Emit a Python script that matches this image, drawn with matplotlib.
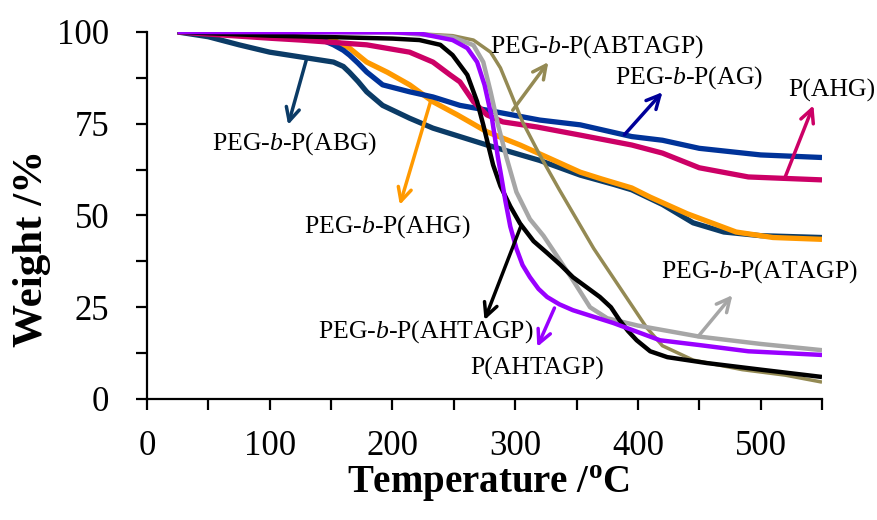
import matplotlib
matplotlib.use("Agg")
import matplotlib.pyplot as plt
import matplotlib.ticker as ticker

plt.rcParams.update({
    "font.family": "Liberation Serif",
    "mathtext.fontset": "custom",
    "mathtext.rm": "Liberation Serif",
    "mathtext.it": "Liberation Serif:italic",
    "mathtext.bf": "Liberation Serif:bold",
})

# --- data (temperature in C, weight in %) ---
abg_t = [25, 50, 75, 100, 125, 152, 160, 165, 172, 179, 192, 214, 233, 277, 320, 353, 380, 395, 420, 445, 470, 500, 550]
abg_w = [100, 98.7, 96.5, 94.5, 93.2, 91.8, 90.6, 89, 86.5, 83.7, 80, 76.5, 73.8, 69.2, 65, 61, 58.5, 57, 53, 48, 45.5, 44.5, 44]

ag_t = [25, 75, 125, 145, 152, 160, 165, 172, 179, 192, 214, 233, 255, 277, 320, 353, 395, 420, 450, 500, 550]
ag_w = [100, 99.3, 98.4, 97.5, 96.5, 95, 93.7, 91.5, 89.1, 85.6, 83.7, 82.3, 80, 78.7, 76, 74.7, 71.5, 70.5, 68.3, 66.5, 65.8]

ahg_t = [25, 60, 100, 125, 179, 214, 233, 247, 255, 266, 277, 290, 318, 353, 395, 420, 450, 490, 550]
ahg_w = [100, 99.2, 98.3, 97.8, 96.5, 94.5, 91.8, 88.3, 86.4, 81, 77.4, 75.5, 74.1, 71.9, 69.2, 67, 63, 60.5, 59.7]

peg_ahg_t = [25, 100, 125, 152, 165, 179, 196, 214, 233, 253, 277, 304, 353, 370, 395, 410, 440, 480, 510, 550]
peg_ahg_w = [100, 99.6, 98.6, 97.8, 95.6, 91.8, 89, 85.6, 81, 77.4, 72.8, 69.2, 61.8, 60, 57.5, 55, 50.5, 45.5, 44, 43.5]

abtagp_t = [25, 200, 249, 266, 280, 288, 296, 306, 320, 336, 350, 364, 378, 394, 407, 420, 445, 485, 520, 550]
abtagp_w = [100, 99.9, 99, 97.8, 94.5, 90.2, 83.7, 75.5, 66.5, 57, 49, 41, 34, 26, 19.5, 14.5, 10.6, 8, 6.5, 4.6]

atagp_t = [25, 200, 249, 266, 274, 280, 286, 293, 301, 312, 323, 335, 347, 361, 375, 400, 425, 450, 500, 550]
atagp_w = [100, 99.9, 98.6, 96.4, 91.8, 83.7, 74.7, 65.7, 56.4, 49, 44.5, 38.5, 32.4, 25, 22, 20, 18.5, 17, 15, 13.3]

peg_ahtagp_t = [25, 100, 150, 200, 222, 239, 249, 261, 269, 274, 278, 282, 288, 296, 304, 315, 326, 337, 347,
                358, 369, 378, 385, 392, 399, 410, 424, 456, 500, 550]
peg_ahtagp_w = [100, 99, 98.6, 98.2, 97.8, 96.5, 93.7, 88.3, 81, 74.7, 69.2, 63.8, 58, 52.5, 47.8, 43, 39.8, 36.5, 33.2,
                30.5, 27.8, 25, 21.5, 18.5, 16, 13, 11.4, 9.8, 8, 6]

ahtagp_t = [25, 200, 222, 249, 261, 269, 275, 281, 286, 289, 292, 296, 301, 306, 312, 319, 326, 336, 347,
            380, 418, 450, 490, 550]
ahtagp_w = [100, 99.9, 99.6, 97.8, 95.6, 91.8, 85.6, 76.6, 65.7, 60, 54, 47, 41, 36.5, 33.2, 30, 27.8, 25.8, 24.2,
            20.7, 16, 14.7, 13, 12]

NAVY = "#0B3B66"
BLUE = "#003399"
DARK_BLUE = "#000099"
PINK = "#CC0066"
ORANGE = "#FF9900"
OLIVE = "#948A54"
GRAY = "#A6A6A6"
BLACK = "#000000"
PURPLE = "#9900FF"

fig = plt.figure(figsize=(8.77, 5.2), dpi=100)
ax = fig.add_axes([0.1676, 0.2327, 0.7697, 0.7058])

ax.plot(abg_t, abg_w, color=NAVY, lw=3.8, solid_joinstyle="round", solid_capstyle="butt")
ax.plot(peg_ahg_t, peg_ahg_w, color=ORANGE, lw=3.8, solid_joinstyle="round", solid_capstyle="butt")
ax.plot(ag_t, ag_w, color=BLUE, lw=3.8, solid_joinstyle="round", solid_capstyle="butt")
ax.plot(ahg_t, ahg_w, color=PINK, lw=3.8, solid_joinstyle="round", solid_capstyle="butt")
ax.plot(abtagp_t, abtagp_w, color=OLIVE, lw=2.5, solid_joinstyle="round", solid_capstyle="butt")
ax.plot(atagp_t, atagp_w, color=GRAY, lw=3.2, solid_joinstyle="round", solid_capstyle="butt")
ax.plot(peg_ahtagp_t, peg_ahtagp_w, color=BLACK, lw=3.2, solid_joinstyle="round", solid_capstyle="butt")
ax.plot(ahtagp_t, ahtagp_w, color=PURPLE, lw=3.2, solid_joinstyle="round", solid_capstyle="butt")

# --- arrows (tail on curve -> head) and labels ---
notes = [
    # label, text pos, tail, head, arrow colour
    (r"PEG-$\mathit{b}$-P(ABG)", (120, 69.6), (130, 92.6), (115, 74.7), NAVY),
    (r"PEG-$\mathit{b}$-P(AHG)", (196, 47.1), (231, 81.0), (206, 52.9), ORANGE),
    (r"PEG-$\mathit{b}$-P(ABTAGP)", (367, 96.0), (298, 78.7), (327, 91.8), OLIVE),
    (r"PEG-$\mathit{b}$-P(AG)", (442, 87.7), (389, 72.0), (420, 83.6), DARK_BLUE),
    ("P(AHG)", (558, 84.0), (520, 60.5), (543, 80.0), PINK),
    (r"PEG-$\mathit{b}$-P(AHTAGP)", (227, 18.3), (305, 47.4), (275, 21.5), BLACK),
    ("P(AHTAGP)", (318, 8.4), (332, 24.8), (318, 14.2), PURPLE),
    (r"PEG-$\mathit{b}$-P(ATAGP)", (499, 34.6), (449, 17.0), (477, 28.3), GRAY),
]
for label, pos, tail, head, col in notes:
    ax.annotate("", xy=head, xytext=tail,
                arrowprops=dict(arrowstyle="->", color=col, lw=2.5,
                                mutation_scale=24, shrinkA=0, shrinkB=0),
                annotation_clip=False)
    ax.text(pos[0], pos[1], label, fontsize=18.5, ha="center", va="center",
            clip_on=False)

ax.set_xlim(0, 550)
ax.set_ylim(0, 100)
ax.xaxis.set_major_locator(ticker.MultipleLocator(100))
ax.xaxis.set_minor_locator(ticker.MultipleLocator(50))
ax.yaxis.set_major_locator(ticker.MultipleLocator(25))
ax.yaxis.set_minor_locator(ticker.MultipleLocator(12.5))
ax.tick_params(which="both", direction="out", length=8, width=1.6)
ax.tick_params(axis="both", labelsize=25)
ax.tick_params(axis="x", pad=14)
ax.tick_params(axis="y", pad=19)

for side in ("top", "right"):
    ax.spines[side].set_visible(False)
for side in ("left", "bottom"):
    ax.spines[side].set_linewidth(1.6)

ax.set_xlabel(r"Temperature /$^{\mathbf{o}}$C", fontsize=28, fontweight="bold")
ax.xaxis.set_label_coords(0.505, -0.175)
ax.set_ylabel("Weight /%", fontsize=31, fontweight="bold")
ax.yaxis.set_label_coords(-0.142, 0.41)

fig.savefig("out.png", dpi=100)
